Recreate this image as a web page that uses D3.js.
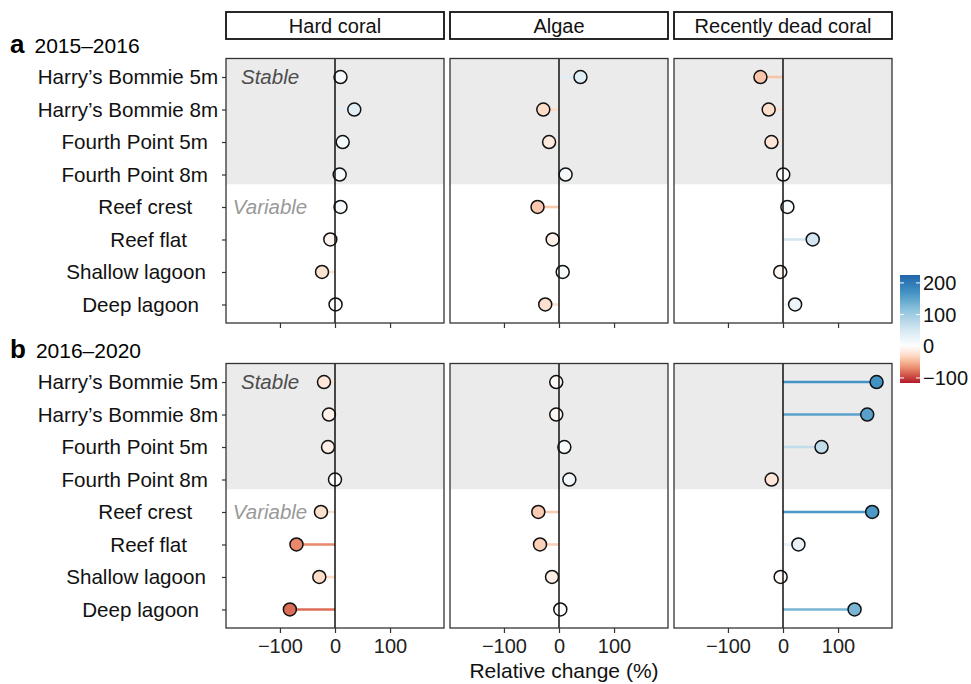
<!DOCTYPE html>
<meta charset="utf-8">
<style>
body { margin: 0; background: #fff; }
text { font-family: "Liberation Sans", Arial, sans-serif; }
.frame { fill: none; stroke: #333; stroke-width: 1.3px; }
.axis path { display: none; }
.axis line { stroke: #333; stroke-width: 1.2px; }
.axis text { font-size: 20px; fill: #222; font-family: "Liberation Sans", Arial, sans-serif; }
</style>
<body>
<script src="https://d3js.org/d3.v7.min.js"></script>
<script>
var sites = ["Harry’s Bommie 5m", "Harry’s Bommie 8m", "Fourth Point 5m", "Fourth Point 8m",
             "Reef crest", "Reef flat", "Shallow lagoon", "Deep lagoon"];
var covers = ["Hard coral", "Algae", "Recently dead coral"];
var periods = ["2015–2016", "2016–2020"];
var tags = ["a", "b"];

// relative change (%) 2015–2016, one value per site
var hard1 = [10, 35, 14, 8.5, 10, -8.5, -23.6, 1];
var algae1 = [39, -28.5, -18, 12, -39, -11.5, 6.7, -25];
var dead1 = [-41, -26, -21, 0.5, 8, 54, -5, 22];
// relative change (%) 2016–2020
var hard2 = [-20, -11, -12.7, 0, -25.5, -70, -28.5, -82];
var algae2 = [-5, -5, 9.7, 18.8, -37.6, -34.5, -12.7, 2.4];
var dead2 = [170, 153, 70, -20.6, 162, 28, -4.3, 130];

var xTicks = [-100, 0, 100];
var legendTicks = [-100, 0, 100, 200];

var values = [[hard1, algae1, dead1], [hard2, algae2, dead2]];

var width = 971, height = 684;
var panelLeft = [226, 450, 674], panelW = 218;
var panelTop = [58.5, 363.5], panelH = 264.5;

var fill = d3.scaleLinear()
    .domain([-116, -87, -58, -29, 0, 56, 112, 169, 225])
    .range(["#B2182B", "#D6604D", "#F4A582", "#FDDBC7", "#FFFFFF", "#D1E5F0", "#92C5DE", "#4393C3", "#2166AC"])
    .clamp(true);

var svg = d3.select("body").append("svg")
    .attr("width", width)
    .attr("height", height);

// strip headers
covers.forEach(function(c, j) {
  svg.append("rect")
      .attr("x", panelLeft[j]).attr("y", 12)
      .attr("width", panelW).attr("height", 27)
      .attr("fill", "#fff").attr("stroke", "#111").attr("stroke-width", 1.8);
  svg.append("text")
      .attr("x", panelLeft[j] + panelW / 2).attr("y", 33)
      .attr("text-anchor", "middle")
      .style("font-size", "20px").attr("fill", "#111")
      .text(c);
});

periods.forEach(function(per, p) {
  var top = panelTop[p], bottom = top + panelH;
  var y = d3.scaleLinear().domain([0.43, 8.57]).range([bottom, top]);
  var rowY = function(i) { return y(8 - i); };

  // panel title
  var title = svg.append("text").attr("x", 10).attr("y", top - 6);
  title.append("tspan").style("font-weight", "bold").style("font-size", "26px").text(tags[p]);
  title.append("tspan").attr("dx", 10).style("font-size", "21px").text(per);

  // site labels (hjust about 0.7, as in the original)
  sites.forEach(function(s, i) {
    var t = svg.append("text")
        .attr("y", rowY(i)).attr("dy", "0.36em")
        .style("font-size", "20.6px").attr("fill", "#111")
        .text(s);
    var w = t.node().getComputedTextLength();
    t.attr("x", 164 - 0.7 * w);
  });

  covers.forEach(function(c, j) {
    var x = d3.scaleLinear().domain([-198, 198]).range([panelLeft[j], panelLeft[j] + panelW]);
    var g = svg.append("g");
    var vals = values[p][j];

    g.append("rect")
        .attr("x", x(-198)).attr("y", y(8.57))
        .attr("width", panelW).attr("height", y(4.7) - y(8.57))
        .attr("fill", "#EBEBEB");

    if (j === 0) {
      g.append("text")
          .attr("x", x(-118)).attr("y", rowY(0)).attr("dy", "0.36em")
          .attr("text-anchor", "middle")
          .style("font-size", "20.5px").style("font-style", "italic")
          .attr("fill", "#4D4D4D").text("Stable");
      g.append("text")
          .attr("x", x(-118)).attr("y", rowY(4)).attr("dy", "0.36em")
          .attr("text-anchor", "middle")
          .style("font-size", "20.5px").style("font-style", "italic")
          .attr("fill", "#999").text("Variable");
    }

    g.selectAll(".seg").data(vals).enter().append("line")
        .attr("x1", x(0))
        .attr("x2", function(d) { return x(d); })
        .attr("y1", function(d, i) { return rowY(i); })
        .attr("y2", function(d, i) { return rowY(i); })
        .attr("stroke", function(d) { return fill(d); })
        .attr("stroke-width", 2.6);

    g.selectAll(".pt").data(vals).enter().append("circle")
        .attr("cx", function(d) { return x(d); })
        .attr("cy", function(d, i) { return rowY(i); })
        .attr("r", 6.5)
        .attr("fill", function(d) { return fill(d); })
        .attr("stroke", "#111").attr("stroke-width", 1.5);

    g.append("line")
        .attr("x1", x(0)).attr("x2", x(0))
        .attr("y1", top).attr("y2", bottom)
        .attr("stroke", "#111").attr("stroke-width", 1.5);

    g.append("rect").attr("class", "frame")
        .attr("x", panelLeft[j]).attr("y", top)
        .attr("width", panelW).attr("height", panelH);

    var ax = svg.append("g").attr("class", "axis")
        .attr("transform", "translate(0," + bottom + ")")
        .call(d3.axisBottom(x).tickValues(xTicks).tickSize(5).tickPadding(6));
    if (p === 0) ax.selectAll("text").remove();

    if (j === 0) {
      svg.append("g").attr("class", "axis")
          .attr("transform", "translate(" + panelLeft[0] + ",0)")
          .call(d3.axisLeft(y).tickValues([1, 2, 3, 4, 5, 6, 7, 8]).tickSize(4).tickFormat(""));
    }
  });
});

svg.append("text")
    .attr("x", 564).attr("y", 678)
    .attr("text-anchor", "middle")
    .style("font-size", "21px").attr("fill", "#111")
    .text("Relative change (%)");

// colour bar
var ly = d3.scaleLinear().domain([-116, 225]).range([383, 275]);
var grad = svg.append("defs").append("linearGradient")
    .attr("id", "bar").attr("x1", 0).attr("x2", 0).attr("y1", 1).attr("y2", 0);
d3.range(0, 1.0001, 0.05).forEach(function(t) {
  grad.append("stop").attr("offset", t)
      .attr("stop-color", fill(-116 + t * (225 + 116)));
});
svg.append("rect")
    .attr("x", 900).attr("y", ly(225))
    .attr("width", 20).attr("height", ly(-116) - ly(225))
    .attr("fill", "url(#bar)");
legendTicks.forEach(function(v) {
  svg.append("line").attr("x1", 900).attr("x2", 904)
      .attr("y1", ly(v)).attr("y2", ly(v)).attr("stroke", "#fff").attr("stroke-width", 1);
  svg.append("line").attr("x1", 916).attr("x2", 920)
      .attr("y1", ly(v)).attr("y2", ly(v)).attr("stroke", "#fff").attr("stroke-width", 1);
  svg.append("text")
      .attr("x", 923).attr("y", ly(v)).attr("dy", "0.36em")
      .style("font-size", "20px").attr("fill", "#111")
      .text(d3.format("")(v));
});
</script>
</body>
